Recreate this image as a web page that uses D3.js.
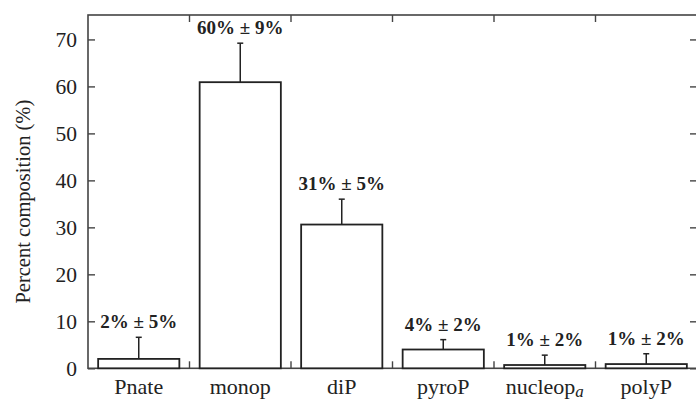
<!DOCTYPE html>
<html>
<head>
<meta charset="utf-8">
<script src="https://cdn.jsdelivr.net/npm/d3@7"></script>
<style>
  body { margin: 0; background: #fff; }
  svg { display: block; font-family: 'Liberation Serif', 'DejaVu Serif', serif; }
</style>
</head>
<body>
<svg id="chart"></svg>
<script>
'use strict';

var categories = ['Pnate', 'monop', 'diP', 'pyroP', 'nucleop', 'polyP'];
var subscripts = ['', '', '', '', 'a', ''];
var values = [2.0, 60.9, 30.6, 4.0, 0.7, 0.9];
var errors = [4.6, 8.3, 5.4, 2.1, 2.1, 2.2];
var barLabels = ['2% \u00b1 5%', '60% \u00b1 9%', '31% \u00b1 5%', '4% \u00b1 2%', '1% \u00b1 2%', '1% \u00b1 2%'];
var yTicks = [0, 10, 20, 30, 40, 50, 60, 70];

var config = {
  width: 696,
  height: 403,
  margin: { top: 15, left: 88, right: -1, bottom: 34.7 }
};

function init() {
  var svg = d3.select('#chart')
    .attr('width', config.width)
    .attr('height', config.height);

  var innerW = config.width - config.margin.left - config.margin.right;
  var innerH = config.height - config.margin.top - config.margin.bottom;

  var x = d3.scaleBand()
    .domain(categories)
    .range([0, innerW])
    .paddingInner(0.2)
    .paddingOuter(0.1);

  var y = d3.scaleLinear()
    .domain([0, 75.2])
    .range([innerH, 0]);

  var g = svg.append('g')
    .attr('transform', 'translate(' + [config.margin.left, config.margin.top] + ')');

  var ink = '#222';
  var step = x.step();
  var boundaries = d3.range(1, categories.length).map(function (i) { return i * step; });

  // frame
  g.append('rect')
    .attr('x', 0).attr('y', 0)
    .attr('width', innerW).attr('height', innerH)
    .attr('fill', 'none')
    .attr('stroke', '#444')
    .attr('stroke-width', 1.6);

  // y ticks, inside on both sides
  var yAxisL = d3.axisLeft(y).tickValues(yTicks).tickSizeInner(-7).tickSizeOuter(0).tickPadding(11);
  var yl = g.append('g').call(yAxisL);
  yl.select('.domain').remove();
  yl.selectAll('line').attr('stroke', '#444').attr('stroke-width', 1.4);
  yl.selectAll('text')
    .attr('font-size', '21.5px')
    .attr('fill', ink)
    .attr('font-family', 'Liberation Serif, serif');

  var yAxisR = d3.axisRight(y).tickValues(yTicks).tickSizeInner(-7).tickSizeOuter(0).tickFormat('');
  var yr = g.append('g').attr('transform', 'translate(' + innerW + ',0)').call(yAxisR);
  yr.select('.domain').remove();
  yr.selectAll('line').attr('stroke', '#444').attr('stroke-width', 1.4);

  // category boundary ticks, top and bottom
  g.selectAll('line.btick')
    .data(boundaries)
    .enter()
    .append('line')
    .attr('class', 'btick')
    .attr('x1', function (d) { return d; })
    .attr('x2', function (d) { return d; })
    .attr('y1', innerH)
    .attr('y2', innerH - 7)
    .attr('stroke', '#444')
    .attr('stroke-width', 1.4);

  g.selectAll('line.ttick')
    .data(boundaries)
    .enter()
    .append('line')
    .attr('class', 'ttick')
    .attr('x1', function (d) { return d; })
    .attr('x2', function (d) { return d; })
    .attr('y1', 0)
    .attr('y2', 7)
    .attr('stroke', '#444')
    .attr('stroke-width', 1.4);

  // error bars
  var errG = g.selectAll('g.err')
    .data(categories)
    .enter()
    .append('g')
    .attr('class', 'err');

  errG.append('line')
    .attr('x1', function (d) { return x(d) + x.bandwidth() / 2; })
    .attr('x2', function (d) { return x(d) + x.bandwidth() / 2; })
    .attr('y1', function (d, i) { return y(values[i]); })
    .attr('y2', function (d, i) { return y(values[i] + errors[i]); })
    .attr('stroke', ink)
    .attr('stroke-width', 1.5);

  errG.append('line')
    .attr('x1', function (d) { return x(d) + x.bandwidth() / 2 - 3; })
    .attr('x2', function (d) { return x(d) + x.bandwidth() / 2 + 3; })
    .attr('y1', function (d, i) { return y(values[i] + errors[i]); })
    .attr('y2', function (d, i) { return y(values[i] + errors[i]); })
    .attr('stroke', ink)
    .attr('stroke-width', 1.5);

  // bars
  g.selectAll('rect.bar')
    .data(categories)
    .enter()
    .append('rect')
    .attr('class', 'bar')
    .attr('x', function (d) { return x(d); })
    .attr('width', x.bandwidth())
    .attr('y', function (d, i) { return y(values[i]); })
    .attr('height', function (d, i) { return innerH - y(values[i]); })
    .attr('fill', '#fff')
    .attr('stroke', ink)
    .attr('stroke-width', 1.8);

  // value labels
  g.selectAll('text.vlabel')
    .data(categories)
    .enter()
    .append('text')
    .attr('class', 'vlabel')
    .attr('x', function (d) { return x(d) + x.bandwidth() / 2; })
    .attr('y', function (d, i) { return y(values[i] + errors[i]) - 9; })
    .attr('text-anchor', 'middle')
    .attr('font-size', '19px')
    .attr('font-weight', 'bold')
    .attr('fill', ink)
    .text(function (d, i) { return barLabels[i]; });

  // category labels
  var xl = g.selectAll('text.xlabel')
    .data(categories)
    .enter()
    .append('text')
    .attr('class', 'xlabel')
    .attr('x', function (d) { return x(d) + x.bandwidth() / 2; })
    .attr('y', innerH + 26)
    .attr('text-anchor', 'middle')
    .attr('font-size', '22px')
    .attr('fill', ink);

  xl.append('tspan').text(function (d) { return d; });
  xl.append('tspan')
    .attr('dy', 3)
    .attr('font-size', '17px')
    .attr('font-style', 'italic')
    .text(function (d, i) { return subscripts[i]; });

  // y axis title
  svg.append('text')
    .attr('transform', 'translate(' + [30, config.margin.top + innerH / 2 + 10] + ') rotate(-90)')
    .attr('text-anchor', 'middle')
    .attr('font-size', '20.5px')
    .attr('fill', ink)
    .text('Percent composition (%)');
}

init();
</script>
</body>
</html>
